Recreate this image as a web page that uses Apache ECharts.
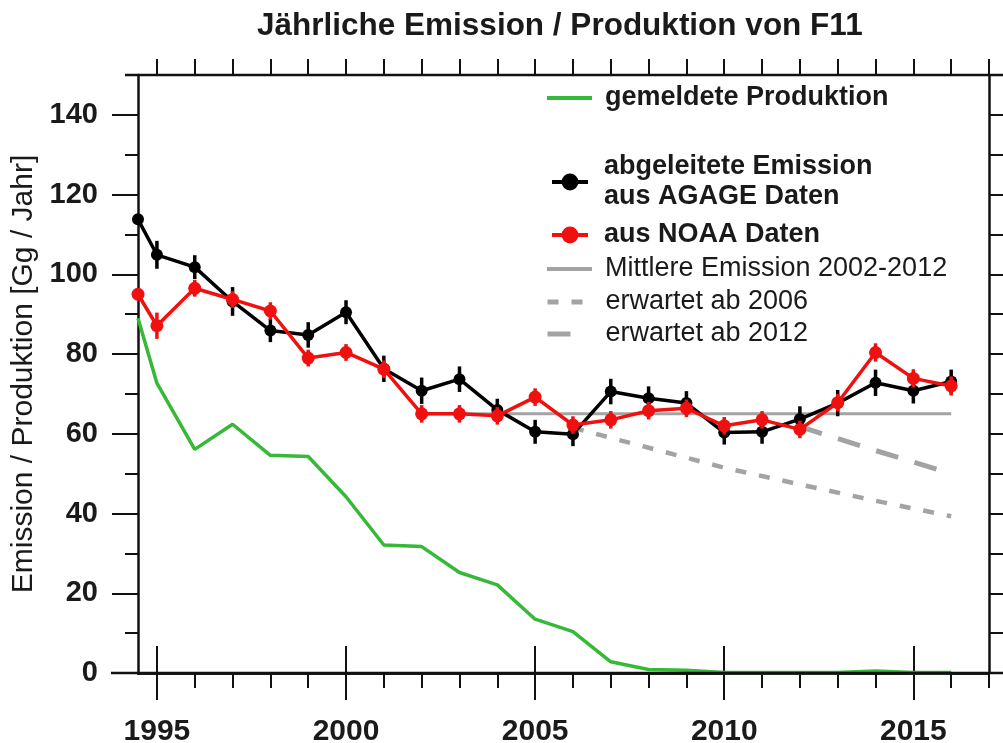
<!DOCTYPE html>
<html>
<head>
<meta charset="utf-8">
<script src="https://cdn.jsdelivr.net/npm/echarts@6/dist/echarts.min.js"></script>
<style>
html,body{margin:0;padding:0;background:#fff;}
#chart{width:1003px;height:743px;}
</style>
</head>
<body>
<div id="chart"></div>
<script>
// ---- Data ----
const years = [1994.5, 1995, 1996, 1997, 1998, 1999, 2000, 2001, 2002, 2003, 2004, 2005, 2006, 2007, 2008, 2009, 2010, 2011, 2012, 2013, 2014, 2015, 2016];
const agage = [113.8, 104.9, 101.8, 93.2, 85.9, 84.8, 90.5, 76.3, 70.8, 73.7, 66.0, 60.5, 59.9, 70.6, 68.9, 67.7, 60.3, 60.5, 63.7, 67.7, 72.8, 70.8, 73.1];
const agageErr = [1.0, 3.5, 3.0, 3.6, 2.9, 3.2, 3.0, 3.3, 3.3, 3.2, 2.8, 3.0, 3.0, 3.2, 3.0, 3.0, 3.0, 3.0, 3.2, 3.3, 3.3, 3.2, 3.0];
const noaa = [95.0, 87.1, 96.5, 93.7, 90.8, 79.0, 80.4, 76.2, 65.0, 65.0, 64.5, 69.2, 62.2, 63.5, 65.8, 66.4, 62.0, 63.5, 61.1, 67.8, 80.4, 73.9, 72.0];
const noaaErr = [1.5, 3.3, 2.1, 2.1, 2.2, 2.1, 2.1, 2.2, 2.2, 2.2, 2.2, 2.2, 2.2, 2.2, 2.2, 2.2, 2.2, 2.2, 2.2, 2.2, 2.3, 2.3, 2.4];
const production = [89.0, 72.7, 56.1, 62.4, 54.6, 54.3, 44.2, 32.1, 31.7, 25.2, 22.1, 13.5, 10.4, 2.8, 0.9, 0.7, 0.1, 0.1, 0.1, 0.1, 0.5, 0.1, 0.1];
const meanYears = [2002, 2016];
const meanValues = [65, 65];
const exp2006Years = [2006, 2008, 2010, 2012, 2014, 2016];
const exp2006Values = [61.5, 56.5, 51.5, 47.3, 43.2, 39.3];
const exp2012Years = [2012, 2014, 2016];
const exp2012Values = [61.8, 55.8, 50.0];

// ---- Tick positions ----
const majorYears = [1995, 2000, 2005, 2010, 2015];
const minorYears = [1995, 1996, 1997, 1998, 1999, 2000, 2001, 2002, 2003, 2004, 2005, 2006, 2007, 2008, 2009, 2010, 2011, 2012, 2013, 2014, 2015, 2016, 2017];
const yMajor = [0, 20, 40, 60, 80, 100, 120, 140];
const yMinor = [0, 10, 20, 30, 40, 50, 60, 70, 80, 90, 100, 110, 120, 130, 140, 150];

const N_PROD = 'gemeldete Produktion';
const N_AGAGE = 'abgeleitete Emission\naus AGAGE Daten';
const N_NOAA = 'aus NOAA Daten';
const N_MEAN = 'Mittlere Emission 2002-2012';
const N_E06 = 'erwartet ab 2006';
const N_E12 = 'erwartet ab 2012';

const FONT = 'Liberation Sans, Arial, sans-serif';
const TXT = '#1a1a1a';
const GREEN = '#36b936';
const RED = '#f01010';
const GREY = '#a3a3a3';

const pairs = (xs, ys) => xs.map((x, i) => [x, ys[i]]);
const errs = (vals, e) => years.map((x, i) => [x, vals[i] - e[i], vals[i] + e[i]]);

function errRender(color) {
  return function (params, api) {
    const p1 = api.coord([api.value(0), api.value(1)]);
    const p2 = api.coord([api.value(0), api.value(2)]);
    return {
      type: 'line',
      shape: { x1: p1[0], y1: p1[1], x2: p2[0], y2: p2[1] },
      style: { stroke: color, lineWidth: 3.5 }
    };
  };
}

const xBase = { type: 'value', min: 1994.5, max: 2017, splitLine: { show: false } };
const axLine = { show: true, lineStyle: { color: '#111', width: 2.5 } };

function legendItem(name, top, opts) {
  return Object.assign({
    data: [name],
    left: 545, top: top, orient: 'vertical', padding: 0,
    itemWidth: 45, itemHeight: 18, selectedMode: false,
    textStyle: { fontFamily: FONT, fontSize: 27, fontWeight: 'bold', color: TXT, lineHeight: 30, padding: [0, 0, 0, 8] }
  }, opts || {});
}
const normalText = (pad) => ({ fontFamily: FONT, fontSize: 27, fontWeight: 'normal', color: TXT, lineHeight: 30, padding: [0, 0, 0, pad] });
const markerText = { fontFamily: FONT, fontSize: 27, fontWeight: 'bold', color: TXT, lineHeight: 30, padding: [0, 0, 0, 11] };

const option = {
  animation: false,
  backgroundColor: '#fff',
  title: {
    text: 'Jährliche Emission / Produktion von F11',
    left: 257, top: 10, padding: 0,
    textStyle: { fontFamily: FONT, fontSize: 31.5, fontWeight: 'bold', color: TXT }
  },
  grid: { left: 138, right: 14, top: 75, bottom: 70, containLabel: false, outerBoundsMode: 'none' },
  legend: [
    legendItem(N_PROD, 83, { itemStyle: { opacity: 0 }, lineStyle: { width: 4 } }),
    legendItem(N_AGAGE, 152, { left: 550, itemWidth: 36, itemHeight: 21, textStyle: markerText, lineStyle: { width: 4 } }),
    legendItem(N_NOAA, 220, { left: 550, itemWidth: 36, itemHeight: 21, textStyle: markerText, lineStyle: { width: 4 } }),
    legendItem(N_MEAN, 254, { textStyle: normalText(8), itemStyle: { opacity: 0 }, lineStyle: { width: 4 } }),
    legendItem(N_E06, 287, { itemWidth: 37, textStyle: normalText(16), itemStyle: { opacity: 0 }, lineStyle: { width: 5 } }),
    legendItem(N_E12, 319, { itemWidth: 23, textStyle: normalText(30), itemStyle: { opacity: 0 }, lineStyle: { width: 5 } })
  ],
  xAxis: [
    Object.assign({}, xBase, {
      position: 'bottom', axisLine: axLine,
      axisTick: { show: true, customValues: majorYears, length: 27, lineStyle: { color: '#111', width: 2 } },
      axisLabel: { show: true, customValues: majorYears, margin: 44, formatter: v => String(v), fontFamily: FONT, fontSize: 30, fontWeight: 'bold', color: TXT }
    }),
    Object.assign({}, xBase, {
      position: 'bottom', axisLine: { show: false },
      axisTick: { show: true, customValues: minorYears, length: 15, lineStyle: { color: '#111', width: 2 } },
      axisLabel: { show: false }
    }),
    Object.assign({}, xBase, {
      position: 'top', axisLine: axLine,
      axisTick: { show: true, customValues: majorYears, length: 27, lineStyle: { color: '#111', width: 2 } },
      axisLabel: { show: false }
    }),
    Object.assign({}, xBase, {
      position: 'top', axisLine: { show: false },
      axisTick: { show: true, customValues: minorYears, length: 16, lineStyle: { color: '#111', width: 2 } },
      axisLabel: { show: false }
    })
  ],
  yAxis: [
    {
      type: 'value', min: 0, max: 150, position: 'left', splitLine: { show: false },
      axisLine: axLine,
      axisTick: { show: true, customValues: yMajor, length: 26, lineStyle: { color: '#111', width: 2 } },
      axisLabel: { show: true, customValues: yMajor, margin: 40, formatter: v => String(v), fontFamily: FONT, fontSize: 29, fontWeight: 'bold', color: TXT },
      name: 'Emission / Produktion [Gg / Jahr]', nameLocation: 'middle', nameGap: 93, nameRotate: 90,
      nameTextStyle: { fontFamily: FONT, fontSize: 30, color: TXT }
    },
    {
      type: 'value', min: 0, max: 150, position: 'left', splitLine: { show: false },
      axisLine: { show: false },
      axisTick: { show: true, customValues: yMinor, length: 13, lineStyle: { color: '#111', width: 2 } },
      axisLabel: { show: false }
    },
    {
      type: 'value', min: 0, max: 150, position: 'right', splitLine: { show: false },
      axisLine: axLine,
      axisTick: { show: true, customValues: yMinor, length: 16, lineStyle: { color: '#111', width: 2 } },
      axisLabel: { show: false }
    }
  ],
  series: [
    { name: N_PROD, type: 'line', data: pairs(years, production), symbol: 'none', lineStyle: { color: GREEN, width: 3.5 }, itemStyle: { color: GREEN }, z: 2 },
    { name: N_MEAN, type: 'line', data: pairs(meanYears, meanValues), symbol: 'none', lineStyle: { color: GREY, width: 3 }, itemStyle: { color: GREY }, z: 2 },
    { name: N_E06, type: 'line', data: pairs(exp2006Years, exp2006Values), symbol: 'none', lineStyle: { color: GREY, width: 4.5, type: [11, 13] }, itemStyle: { color: GREY }, z: 2 },
    { name: N_E12, type: 'line', data: pairs(exp2012Years, exp2012Values), symbol: 'none', lineStyle: { color: GREY, width: 5, type: [23, 17] }, itemStyle: { color: GREY }, z: 2 },
    { name: 'errAGAGE', type: 'custom', renderItem: errRender('#000'), data: errs(agage, agageErr), encode: { x: 0, y: [1, 2] }, z: 3 },
    { name: N_AGAGE, type: 'line', data: pairs(years, agage), symbol: 'circle', symbolSize: 12, lineStyle: { color: '#000', width: 3.5 }, itemStyle: { color: '#000' }, z: 4 },
    { name: 'errNOAA', type: 'custom', renderItem: errRender(RED), data: errs(noaa, noaaErr), encode: { x: 0, y: [1, 2] }, z: 5 },
    { name: N_NOAA, type: 'line', data: pairs(years, noaa), symbol: 'circle', symbolSize: 13, lineStyle: { color: RED, width: 3.5 }, itemStyle: { color: RED }, z: 6 }
  ],
  graphic: [
    { type: 'line', shape: { x1: 111, y1: 673, x2: 1003, y2: 673 }, style: { stroke: '#111', lineWidth: 2.5 }, z: 100 },
    { type: 'line', shape: { x1: 125, y1: 75, x2: 1003, y2: 75 }, style: { stroke: '#111', lineWidth: 2.5 }, z: 100 }
  ]
};

const chart = echarts.init(document.getElementById('chart'), null, { renderer: 'canvas' });
chart.setOption(option);
</script>
</body>
</html>
